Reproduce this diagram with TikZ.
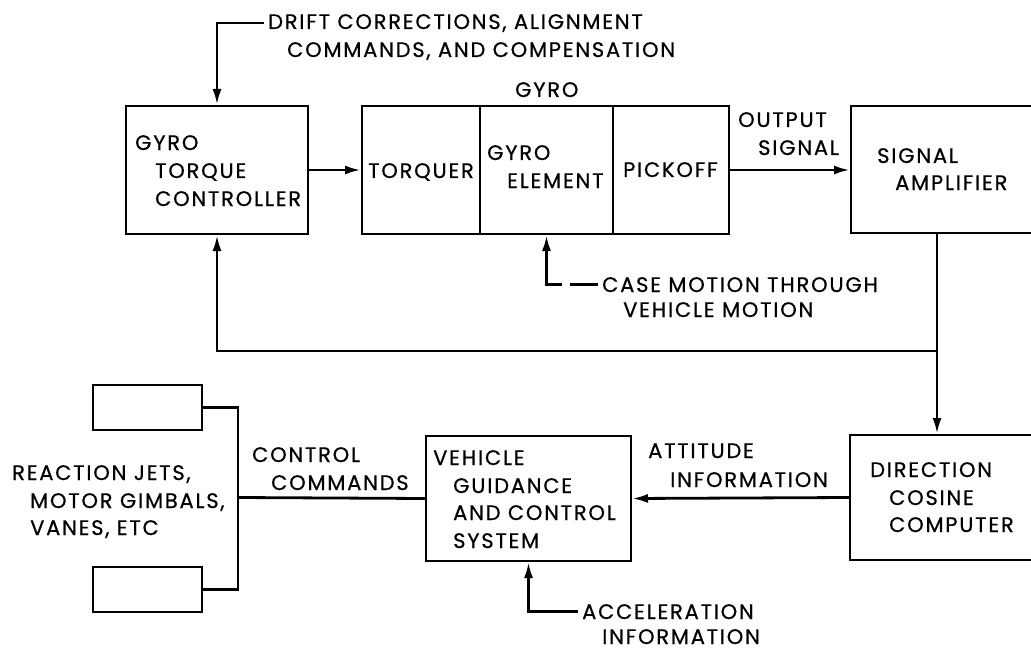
\documentclass[tikz,border=0pt]{standalone}
\usepackage{fontspec}
\setmainfont{Poppins}[LetterSpace=8.5,FakeBold=0.6]
\usetikzlibrary{arrows.meta}
\begin{document}
\begin{tikzpicture}[x=1pt,y=-1pt,
  box/.style={draw,line width=2pt,rectangle,inner sep=0pt},
  conn/.style={line width=2.8pt},
  arr/.style={conn,-{Latex[length=16pt,width=9pt]}},
  lbl/.style={inner sep=0pt,anchor=base west,font=\fontsize{21}{21}\selectfont}]
\useasboundingbox (0,0) rectangle (1031,650);
\clip (0,0) rectangle (1031,650);
% boxes
\node[box,anchor=north west,minimum width=182pt,minimum height=128pt] (ctrl) at (125,105) {};
\node[box,anchor=north west,minimum width=118pt,minimum height=128pt] (torq) at (361,105) {};
\node[box,anchor=north west,minimum width=133pt,minimum height=128pt] (elem) at (479,105) {};
\node[box,anchor=north west,minimum width=116pt,minimum height=128pt] (pick) at (612,105) {};
\node[box,anchor=north west,minimum width=200pt,minimum height=127pt] (amp) at (850,105) {};
\node[box,anchor=north west,minimum width=200pt,minimum height=125pt] (dcc) at (849,434) {};
\node[box,anchor=north west,minimum width=205pt,minimum height=125pt] (veh) at (425,435) {};
\node[box,anchor=north west,minimum width=109pt,minimum height=45pt] (jet1) at (92,384) {};
\node[box,anchor=north west,minimum width=109pt,minimum height=45pt] (jet2) at (92,566) {};
% texts
\node[lbl] (drift1) at (268,29) {DRIFT CORRECTIONS, ALIGNMENT};
\node[lbl] (drift2) at (287,57) {COMMANDS, AND COMPENSATION};
\node[lbl] (gyro) at (515,97) {GYRO};
\node[lbl] (c1) at (135,150) {GYRO};
\node[lbl] (c2) at (155,178) {TORQUE};
\node[lbl] (c3) at (155,206) {CONTROLLER};
\node[lbl] (tq) at (368,178) {TORQUER};
\node[lbl] (e1) at (487,160) {GYRO};
\node[lbl] (e2) at (507,188) {ELEMENT};
\node[lbl] (pk) at (623,177) {PICKOFF};
\node[lbl] (o1) at (738,127) {OUTPUT};
\node[lbl] (o2) at (758,155) {SIGNAL};
\node[lbl] (a1) at (877,163) {SIGNAL};
\node[lbl] (a2) at (895,190) {AMPLIFIER};
\node[lbl] (case1) at (602,292) {CASE MOTION THROUGH};
\node[lbl] (case2) at (623,317) {VEHICLE MOTION};
\node[lbl] (d1) at (870,477) {DIRECTION};
\node[lbl] (d2) at (889,505) {COSINE};
\node[lbl] (d3) at (889,532) {COMPUTER};
\node[lbl] (at1) at (648,458) {ATTITUDE};
\node[lbl] (at2) at (670,487) {INFORMATION};
\node[lbl] (v1) at (433,465) {VEHICLE};
\node[lbl] (v2) at (453,493) {GUIDANCE};
\node[lbl] (v3) at (453,520) {AND CONTROL};
\node[lbl] (v4) at (453,548) {SYSTEM};
\node[lbl] (acc1) at (582,619) {ACCELERATION};
\node[lbl] (acc2) at (602,644) {INFORMATION};
\node[lbl] (cc1) at (252,462) {CONTROL};
\node[lbl] (cc2) at (271,490) {COMMANDS};
\node[lbl] (r1) at (12,480) {REACTION JETS,};
\node[lbl] (r2) at (30,508) {MOTOR GIMBALS,};
\node[lbl] (r3) at (30,535) {VANES, ETC};
% connectors
\draw[arr] ([xshift=-4pt]drift1.west) -| (ctrl.north);
\draw[arr] (ctrl.east) -- (torq.west);
\draw[arr] (pick.east) -- (pick.east -| amp.west);
\draw[conn] ([xshift=-4pt]case1.west) -- ++(-28,0);
\draw[arr] ([xshift=-40pt]case1.west) -| (elem.south);
\coordinate (fb) at (937,351);
\draw[conn] (amp.south west -| fb) -- (fb);
\draw[arr] (fb) -| (ctrl.south);
\draw[arr] (fb) -- (dcc.north -| fb);
\draw[arr] (dcc.west) -- (veh.east);
\draw[arr] ([xshift=-4pt]acc1.west) -| (veh.south);
\coordinate (br) at (238,497.5);
\draw[conn] (veh.west) -- (br);
\draw[conn] (jet1.east) -| (br);
\draw[conn] (jet2.east) -| (br);
\end{tikzpicture}
\end{document}
